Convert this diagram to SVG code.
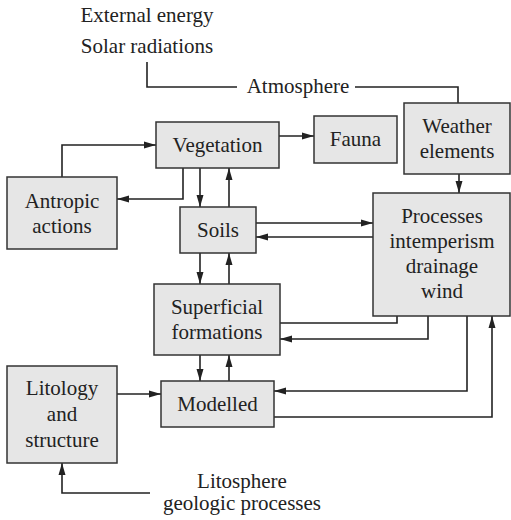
<svg xmlns="http://www.w3.org/2000/svg" width="511" height="520" viewBox="0 0 511 520">
<defs>
<marker id="ah" viewBox="0 0 12 8" refX="12" refY="4" markerWidth="12" markerHeight="8" markerUnits="userSpaceOnUse" orient="auto">
<path d="M0,0.5 L12,4 L0,7.5 Z" fill="#222"/>
</marker>
</defs>
<style>
.box{fill:#e6e6e6;stroke:#333;stroke-width:1.5}
.t{font-family:"Liberation Serif","Times New Roman",serif;font-size:21px;fill:#222;text-anchor:middle}
.c{fill:none;stroke:#222;stroke-width:1.6}
.a{marker-end:url(#ah)}
</style>
<rect width="511" height="520" fill="#fff"/>
<g id="labels">
<text class="t" x="147" y="22">External energy</text>
<text class="t" x="147" y="53">Solar radiations</text>
<text class="t" x="298" y="93">Atmosphere</text>
<text class="t" x="242" y="488">Litosphere</text>
<text class="t" x="242" y="510">geologic processes</text>
</g>
<g id="connectors">
<path class="c" d="M147,62 V87 H237"/>
<path class="c" d="M355,87 H458 V103"/>
<path class="c a" d="M459,174 V193"/>
<path class="c a" d="M279,136 H314"/>
<path class="c a" d="M62,177 V145 H156"/>
<path class="c a" d="M183,168 V199 H117"/>
<path class="c a" d="M200,168 V207"/>
<path class="c a" d="M229,207 V168"/>
<path class="c a" d="M256,223 H373"/>
<path class="c a" d="M373,237 H256"/>
<path class="c a" d="M200,253 V284"/>
<path class="c a" d="M229,284 V253"/>
<path class="c" d="M397,316 V323 H280"/>
<path class="c a" d="M428,316 V339 H280"/>
<path class="c a" d="M200,355 V381"/>
<path class="c a" d="M229,381 V355"/>
<path class="c a" d="M467,316 V391 H274"/>
<path class="c a" d="M274,417 H492 V316"/>
<path class="c a" d="M117,394 H161"/>
<path class="c a" d="M150,493 H62 V463"/>
</g>
<g id="weather"><rect class="box" x="404" y="103" width="106" height="71"/><text class="t" x="457" y="133">Weather</text><text class="t" x="457" y="158">elements</text></g>
<g id="fauna"><rect class="box" x="314" y="116" width="83" height="47"/><text class="t" x="355.5" y="146">Fauna</text></g>
<g id="vegetation"><rect class="box" x="156" y="122" width="123" height="46"/><text class="t" x="217.5" y="152">Vegetation</text></g>
<g id="antropic"><rect class="box" x="7" y="177" width="110" height="72"/><text class="t" x="62" y="208">Antropic</text><text class="t" x="62" y="233">actions</text></g>
<g id="soils"><rect class="box" x="180" y="207" width="76" height="46"/><text class="t" x="218" y="237">Soils</text></g>
<g id="processes"><rect class="box" x="373" y="193" width="137" height="123"/><text class="t" x="442" y="223">Processes</text><text class="t" x="442" y="248">intemperism</text><text class="t" x="442" y="273">drainage</text><text class="t" x="442" y="298">wind</text></g>
<g id="superficial"><rect class="box" x="154" y="284" width="126" height="71"/><text class="t" x="217" y="314">Superficial</text><text class="t" x="217" y="339">formations</text></g>
<g id="modelled"><rect class="box" x="161" y="381" width="113" height="46"/><text class="t" x="217.5" y="411">Modelled</text></g>
<g id="litology"><rect class="box" x="7" y="366" width="110" height="97"/><text class="t" x="62" y="395">Litology</text><text class="t" x="62" y="421">and</text><text class="t" x="62" y="447">structure</text></g>
</svg>
